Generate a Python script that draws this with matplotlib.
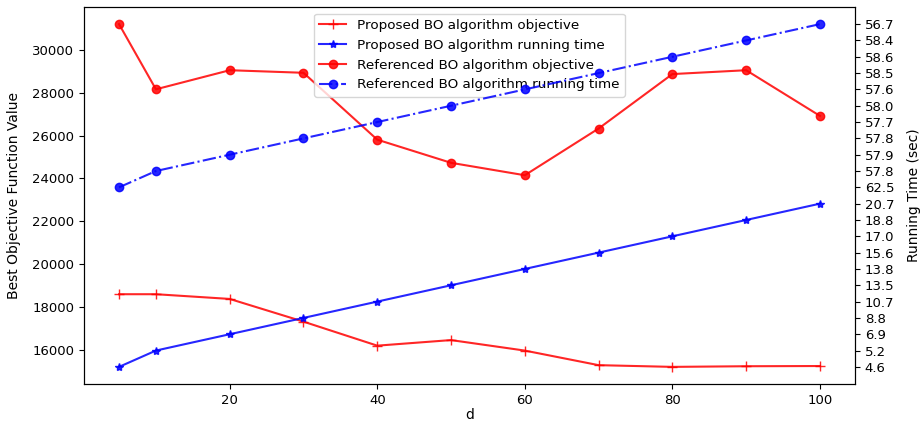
import numpy as np
import matplotlib
matplotlib.use("Agg")
import matplotlib.pyplot as plt

d = [5, 10, 20, 30, 40, 50, 60, 70, 80, 90, 100]
proposed_obj = [18600, 18600, 18380, 17320, 16200, 16460, 15970, 15290, 15210, 15240, 15250]
referenced_obj = [31200, 28160, 29050, 28930, 25810, 24730, 24150, 26330, 28870, 29050, 26920]
proposed_time = [4.6, 5.2, 6.9, 8.8, 10.7, 13.5, 13.8, 15.6, 17.0, 18.8, 20.7]
referenced_time = [62.5, 57.8, 57.9, 57.8, 57.7, 58.0, 57.6, 58.5, 58.6, 58.4, 56.7]

plt.rcParams['font.family'] = ['DejaVu Sans']
plt.rcParams['font.size'] = 9.5

fig = plt.figure(figsize=(9.23, 4.24), dpi=100)
ax1 = fig.add_axes([0.0910, 0.0943, 0.8353, 0.8892])
ax2 = ax1.twinx()

# running time values are shown as categorical-style labels (one tick per value)
time_labels = [f'{t:.1f}' for t in proposed_time + referenced_time]
positions = np.arange(len(time_labels))
pos_prop = positions[:len(proposed_time)]
pos_ref = positions[len(proposed_time):]

l1, = ax1.plot(d, proposed_obj, color='red', marker='+', linestyle='-', alpha=0.85,
               markersize=7, label='Proposed BO algorithm objective')
l3, = ax1.plot(d, referenced_obj, color='red', marker='o', linestyle='-', alpha=0.85,
               label='Referenced BO algorithm objective')
l2, = ax2.plot(d, pos_prop, color='blue', marker='*', linestyle='-', alpha=0.85,
               label='Proposed BO algorithm running time')
l4, = ax2.plot(d, pos_ref, color='blue', marker='o', linestyle='-.', alpha=0.85,
               label='Referenced BO algorithm running time')

ax2.set_yticks(positions)
ax2.set_yticklabels(time_labels)
ax2.set_ylim(-1.05, len(positions) - 1 + 1.05)

ax1.set_xlabel('d', fontsize=10, labelpad=1)
ax1.set_ylabel('Best Objective Function Value', fontsize=10, labelpad=8)
ax2.set_ylabel('Running Time (sec)', fontsize=10, labelpad=9)

ax1.legend(handles=[l1, l2, l3, l4], loc='upper center', fontsize=9.7)

fig.savefig('out.png', dpi=100)
